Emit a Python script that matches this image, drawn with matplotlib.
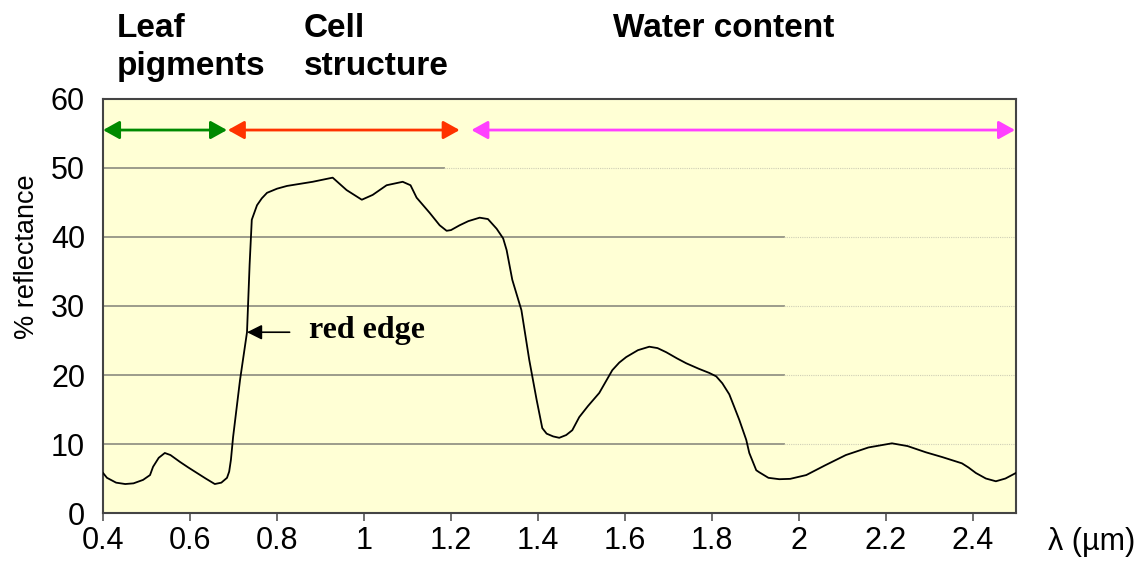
import matplotlib
matplotlib.use('Agg')
import matplotlib.pyplot as plt

# ── data ─────────────────────────────────────────────────────────────────────
wavelength = [0.400, 0.409, 0.430, 0.451, 0.470, 0.492, 0.508, 0.515, 0.528,
              0.542, 0.555, 0.577, 0.596, 0.616, 0.636, 0.657, 0.672, 0.685,
              0.690, 0.694, 0.699, 0.715, 0.731, 0.737, 0.742, 0.754, 0.765,
              0.777, 0.800, 0.823, 0.882, 0.928, 0.960, 0.995, 1.020, 1.052,
              1.089, 1.107, 1.121, 1.151, 1.174, 1.190, 1.200, 1.220, 1.240,
              1.266, 1.285, 1.305, 1.320, 1.328, 1.341, 1.362, 1.380, 1.397,
              1.410, 1.420, 1.435, 1.449, 1.465, 1.479, 1.495, 1.515, 1.541,
              1.571, 1.587, 1.603, 1.630, 1.656, 1.675, 1.695, 1.720, 1.741,
              1.770, 1.794, 1.810, 1.824, 1.840, 1.850, 1.863, 1.879, 1.886,
              1.902, 1.909, 1.930, 1.955, 1.980, 2.017, 2.060, 2.108, 2.160,
              2.214, 2.250, 2.292, 2.330, 2.375, 2.390, 2.407, 2.430, 2.453,
              2.475, 2.499]
reflectance = [5.8, 5.1, 4.4, 4.2, 4.3, 4.8, 5.5, 6.7, 8.0,
               8.7, 8.4, 7.4, 6.6, 5.8, 5.0, 4.2, 4.4, 5.1,
               6.0, 7.7, 11.0, 19.3, 26.2, 36.0, 42.5, 44.6, 45.6,
               46.4, 47.0, 47.4, 48.0, 48.6, 46.8, 45.4, 46.1, 47.5,
               48.0, 47.5, 45.7, 43.5, 41.7, 40.9, 41.0, 41.7, 42.3,
               42.8, 42.6, 41.2, 39.8, 38.1, 33.8, 29.4, 22.2, 16.4,
               12.3, 11.5, 11.1, 10.9, 11.3, 12.0, 13.9, 15.5, 17.4,
               20.7, 21.8, 22.6, 23.6, 24.1, 23.9, 23.3, 22.4, 21.7,
               20.9, 20.3, 19.8, 18.8, 17.2, 15.6, 13.5, 10.6, 8.7,
               6.2, 5.9, 5.1, 4.9, 4.95, 5.5, 6.9, 8.4, 9.5,
               10.1, 9.7, 8.8, 8.1, 7.2, 6.6, 5.8, 5.0, 4.6,
               5.0, 5.8]

# spectral regions (start, end) in µm
region_names  = ['Leaf\npigments', 'Cell\nstructure', 'Water content']
region_start  = [0.400, 0.687, 1.247]
region_end    = [0.685, 1.220, 2.497]
region_colors = ['#008a00', '#ff3300', '#ff40ff']
region_y      = 55.5

grid_y   = [10, 20, 30, 40, 50]
grid_end = [1.966, 1.966, 1.966, 1.966, 1.185]   # where the solid grid stops

xticks = [0.4, 0.6, 0.8, 1.0, 1.2, 1.4, 1.6, 1.8, 2.0, 2.2, 2.4]
xtick_labels = ['0.4', '0.6', '0.8', '1', '1.2', '1.4', '1.6', '1.8', '2', '2.2', '2.4']
yticks = [0, 10, 20, 30, 40, 50, 60]

plt.rcParams['font.family'] = ['Liberation Sans', 'DejaVu Sans']

fig = plt.figure(figsize=(11.4, 5.64), dpi=100)
ax = fig.add_axes([0.0904, 0.0904, 0.8011, 0.7341])
ax.set_facecolor('#ffffd5')
ax.set_xlim(0.4, 2.5)
ax.set_ylim(0, 60)

# ── partial grid lines ───────────────────────────────────────────────────────
for gy, ge in zip(grid_y, grid_end):
    ax.plot([0.4, ge], [gy, gy], color='#9c9c8c', lw=1.4, zorder=1)
    ax.plot([ge, 2.5], [gy, gy], color='#cfcfb6', lw=0.8, ls=(0, (1, 1)), zorder=1)

# ── spectrum ─────────────────────────────────────────────────────────────────
ax.plot(wavelength, reflectance, color='black', lw=1.3, zorder=3)

# ── region arrows ────────────────────────────────────────────────────────────
for x0, x1, c in zip(region_start, region_end, region_colors):
    ax.annotate('', xy=(x1, region_y), xytext=(x0, region_y),
                arrowprops=dict(arrowstyle='<|-|>,head_length=0.45,head_width=0.25',
                                color=c, lw=2, mutation_scale=22,
                                shrinkA=0, shrinkB=0),
                annotation_clip=False, zorder=4)

# ── red edge label ───────────────────────────────────────────────────────────
ax.annotate('', xy=(0.731, 26.2), xytext=(0.829, 26.2),
            arrowprops=dict(arrowstyle='-|>,head_length=0.5,head_width=0.25',
                            color='black', lw=1.2, mutation_scale=18,
                            shrinkA=0, shrinkB=0), zorder=4)
ax.text(0.873, 25.4, 'red edge', family='Liberation Serif', fontweight='bold',
        fontsize=23, va='baseline', ha='left')

# ── region headers ───────────────────────────────────────────────────────────
head_x = [117, 304, 613]
for name, px in zip(region_names, head_x):
    for k, line in enumerate(name.split('\n')):
        fig.text(px / 1140, 1 - (37 + 38 * k) / 564, line, fontsize=24,
                 fontweight='bold', va='baseline', ha='left')

# ── axes styling ─────────────────────────────────────────────────────────────
ax.set_xticks(xticks)
ax.set_xticklabels(xtick_labels)
ax.set_yticks(yticks)
ax.tick_params(axis='x', direction='out', length=6, width=1.2, color='#555555',
               labelsize=22, pad=3)
ax.tick_params(axis='y', length=0, labelsize=22, pad=13)
for s in ax.spines.values():
    s.set_color('#444444')
    s.set_linewidth(1.5)

ax.set_ylabel('% reflectance', fontsize=19.5)
ax.yaxis.set_label_coords(-0.069, 0.62)
fig.text(1048 / 1140, 1 - 542 / 564, 'λ (µm)', fontsize=22, va='center', ha='left')

fig.savefig('out.png', dpi=100)
